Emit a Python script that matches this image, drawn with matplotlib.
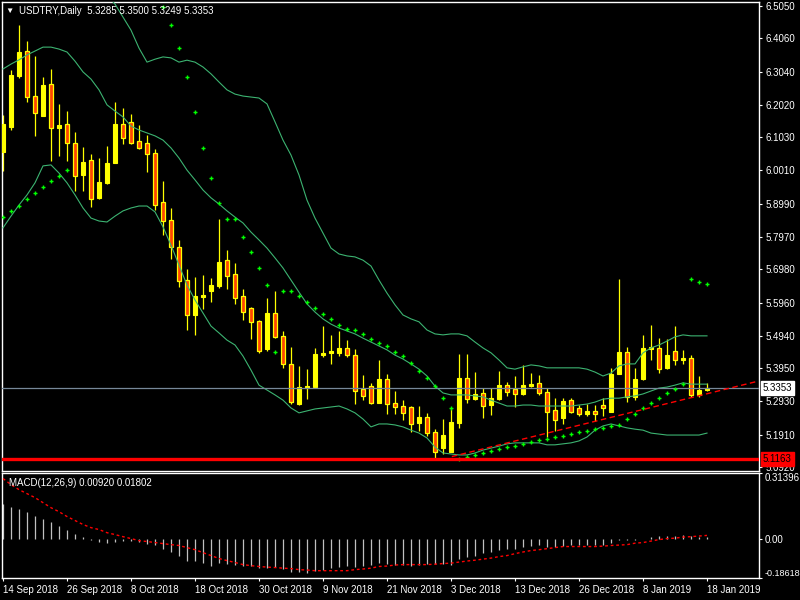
import matplotlib
matplotlib.use("Agg")
import matplotlib.pyplot as plt
import matplotlib.transforms as mtransforms
import numpy as np

plt.rcParams['font.family'] = ['Liberation Sans', 'DejaVu Sans']

# USDTRY daily candles, 14 Sep 2018 .. 18 Jan 2019
opens = [6.058, 6.134, 6.290, 6.367, 6.229, 6.168, 6.266, 6.131, 6.143, 6.085,
         5.987, 6.033, 5.916, 5.962, 6.024, 6.143, 6.149, 6.091, 6.085, 6.054,
         5.904, 5.849, 5.766, 5.665, 5.559, 5.613, 5.632, 5.647, 5.726, 5.684,
         5.616, 5.580, 5.540, 5.454, 5.564, 5.494, 5.408, 5.286, 5.335, 5.338,
         5.435, 5.441, 5.442, 5.457, 5.435, 5.331, 5.340, 5.288, 5.362, 5.288,
         5.279, 5.276, 5.228, 5.245, 5.199, 5.151, 5.139, 5.228, 5.365, 5.301,
         5.319, 5.283, 5.301, 5.343, 5.332, 5.317, 5.341, 5.349, 5.322, 5.267,
         5.243, 5.297, 5.273, 5.255, 5.264, 5.282, 5.262, 5.378, 5.444, 5.307,
         5.363, 5.455, 5.457, 5.396, 5.447, 5.421, 5.426, 5.313, 5.3285]
highs = [6.171, 6.309, 6.447, 6.398, 6.352, 6.287, 6.312, 6.205, 6.183, 6.119,
         6.073, 6.051, 6.039, 6.076, 6.211, 6.192, 6.174, 6.140, 6.110, 6.067,
         5.969, 5.886, 5.788, 5.699, 5.675, 5.681, 5.671, 5.852, 5.757, 5.717,
         5.638, 5.583, 5.543, 5.610, 5.631, 5.509, 5.460, 5.402, 5.392, 5.457,
         5.524, 5.497, 5.509, 5.481, 5.454, 5.374, 5.349, 5.420, 5.377, 5.325,
         5.297, 5.279, 5.280, 5.258, 5.208, 5.239, 5.273, 5.438, 5.438, 5.383,
         5.334, 5.334, 5.386, 5.352, 5.371, 5.405, 5.380, 5.374, 5.334, 5.304,
         5.304, 5.304, 5.282, 5.285, 5.282, 5.304, 5.395, 5.668, 5.460, 5.395,
         5.497, 5.527, 5.487, 5.484, 5.524, 5.451, 5.435, 5.371, 5.3500]
lows = [5.999, 6.125, 6.284, 6.211, 6.107, 6.168, 6.030, 6.045, 6.030, 5.938,
        5.938, 5.889, 5.913, 5.959, 6.024, 6.082, 6.082, 6.067, 5.996, 5.880,
        5.803, 5.730, 5.644, 5.512, 5.498, 5.577, 5.599, 5.641, 5.639, 5.593,
        5.543, 5.485, 5.443, 5.449, 5.488, 5.395, 5.284, 5.283, 5.301, 5.335,
        5.430, 5.409, 5.433, 5.430, 5.286, 5.297, 5.285, 5.288, 5.255, 5.255,
        5.237, 5.200, 5.203, 5.186, 5.116, 5.132, 5.139, 5.213, 5.289, 5.298,
        5.243, 5.252, 5.298, 5.310, 5.277, 5.313, 5.338, 5.313, 5.185, 5.203,
        5.225, 5.258, 5.249, 5.249, 5.234, 5.249, 5.262, 5.378, 5.292, 5.298,
        5.360, 5.421, 5.381, 5.393, 5.406, 5.409, 5.307, 5.307, 5.3249]
closes = [6.143, 6.294, 6.364, 6.226, 6.177, 6.263, 6.131, 6.140, 6.085, 5.984,
          6.027, 5.913, 5.965, 6.024, 6.143, 6.100, 6.085, 6.070, 6.051, 5.895,
          5.846, 5.766, 5.662, 5.558, 5.616, 5.619, 5.650, 5.720, 5.678, 5.611,
          5.568, 5.537, 5.449, 5.564, 5.491, 5.407, 5.290, 5.337, 5.341, 5.438,
          5.441, 5.447, 5.457, 5.436, 5.326, 5.310, 5.288, 5.362, 5.286, 5.276,
          5.258, 5.225, 5.246, 5.197, 5.139, 5.190, 5.230, 5.365, 5.301, 5.316,
          5.280, 5.304, 5.343, 5.323, 5.317, 5.343, 5.347, 5.320, 5.262, 5.237,
          5.294, 5.262, 5.255, 5.264, 5.255, 5.274, 5.377, 5.444, 5.307, 5.362,
          5.457, 5.460, 5.393, 5.435, 5.421, 5.427, 5.313, 5.328, 5.3353]

# Bollinger bands (20, 2)
bb_upper = [6.799, 6.793, 6.784, 6.784, 6.771, 6.743, 6.740, 6.753, 6.765, 6.746,
            6.720, 6.707, 6.650, 6.536, 6.511, 6.471, 6.431, 6.376, 6.333, 6.342,
            6.349, 6.346, 6.333, 6.339, 6.333, 6.318, 6.297, 6.272, 6.248, 6.235,
            6.229, 6.226, 6.223, 6.205, 6.150, 6.094, 6.048, 5.987, 5.910, 5.855,
            5.809, 5.763, 5.745, 5.739, 5.736, 5.726, 5.708, 5.665, 5.625, 5.589,
            5.558, 5.546, 5.537, 5.512, 5.500, 5.497, 5.500, 5.500, 5.494, 5.475,
            5.457, 5.442, 5.420, 5.396, 5.392, 5.399, 5.405, 5.402, 5.396, 5.396,
            5.396, 5.396, 5.396, 5.392, 5.383, 5.371, 5.380, 5.402, 5.408, 5.408,
            5.442, 5.457, 5.466, 5.478, 5.491, 5.497, 5.494, 5.494, 5.494]
bb_mid = [6.312, 6.327, 6.340, 6.355, 6.367, 6.379, 6.379, 6.373, 6.364, 6.336,
          6.303, 6.281, 6.248, 6.202, 6.183, 6.165, 6.137, 6.125, 6.116, 6.107,
          6.094, 6.070, 6.039, 6.002, 5.972, 5.941, 5.917, 5.898, 5.877, 5.858,
          5.840, 5.812, 5.788, 5.763, 5.733, 5.702, 5.665, 5.628, 5.592, 5.567,
          5.546, 5.530, 5.518, 5.509, 5.500, 5.487, 5.475, 5.463, 5.451, 5.435,
          5.423, 5.408, 5.392, 5.371, 5.340, 5.319, 5.313, 5.313, 5.313, 5.310,
          5.307, 5.297, 5.288, 5.279, 5.279, 5.282, 5.282, 5.279, 5.279, 5.279,
          5.279, 5.279, 5.282, 5.285, 5.291, 5.300, 5.303, 5.303, 5.307, 5.310,
          5.316, 5.325, 5.334, 5.337, 5.343, 5.350, 5.346, 5.346, 5.346]
bb_lower = [5.825, 5.861, 5.895, 5.926, 5.963, 6.015, 6.018, 5.993, 5.963, 5.926,
            5.886, 5.855, 5.846, 5.843, 5.861, 5.877, 5.886, 5.892, 5.892, 5.874,
            5.828, 5.772, 5.711, 5.650, 5.604, 5.564, 5.524, 5.503, 5.481, 5.466,
            5.432, 5.389, 5.343, 5.328, 5.313, 5.297, 5.273, 5.258, 5.264, 5.270,
            5.273, 5.276, 5.279, 5.270, 5.258, 5.239, 5.215, 5.224, 5.224, 5.221,
            5.215, 5.205, 5.196, 5.181, 5.153, 5.135, 5.132, 5.129, 5.129, 5.135,
            5.144, 5.150, 5.156, 5.163, 5.166, 5.166, 5.166, 5.166, 5.160, 5.160,
            5.163, 5.166, 5.172, 5.184, 5.205, 5.218, 5.224, 5.218, 5.212, 5.208,
            5.205, 5.196, 5.193, 5.190, 5.190, 5.190, 5.190, 5.190, 5.196]

# Parabolic SAR (nan = above the visible range)
nan = float('nan')
sar = [5.858, 5.877, 5.892, 5.914, 5.932, 5.950, 5.969, 5.984, 6.002, nan,
       nan, nan, nan, nan, nan, nan, nan, nan, nan, nan,
       6.502, 6.447, 6.376, 6.287, 6.180, 6.070, 5.978, 5.901, 5.852, 5.852,
       5.797, 5.751, 5.702, 5.650, 5.445, 5.632, 5.632, 5.616, 5.598, 5.579,
       5.561, 5.546, 5.527, 5.515, 5.512, 5.500, 5.484, 5.472, 5.463, 5.445,
       5.432, 5.411, 5.386, 5.365, 5.340, 5.304, 5.273, 5.116, 5.123, 5.129,
       5.135, 5.141, 5.147, 5.153, 5.156, 5.163, 5.169, 5.175, 5.178, 5.184,
       5.187, 5.193, 5.199, 5.202, 5.208, 5.212, 5.218, 5.221, 5.239, 5.254,
       5.273, 5.288, 5.304, 5.319, 5.331, 5.346, 5.668, 5.659, 5.653]

# MACD (12,26,9)
macd_hist = [0.170, 0.155, 0.146, 0.131, 0.109, 0.098, 0.080, 0.065, 0.046, 0.027,
             0.011, -0.002, -0.013, -0.018, -0.013, -0.010, -0.010, -0.015, -0.022, -0.030,
             -0.045, -0.062, -0.081, -0.102, -0.105, -0.113, -0.129, -0.113, -0.116, -0.122,
             -0.126, -0.129, -0.139, -0.137, -0.134, -0.140, -0.154, -0.154, -0.160, -0.153,
             -0.145, -0.139, -0.134, -0.129, -0.132, -0.129, -0.121, -0.113, -0.116, -0.121,
             -0.122, -0.126, -0.122, -0.118, -0.116, -0.116, -0.121, -0.092, -0.084, -0.080,
             -0.065, -0.062, -0.053, -0.046, -0.045, -0.037, -0.032, -0.030, -0.037, -0.037,
             -0.034, -0.030, -0.029, -0.029, -0.027, -0.026, -0.018, -0.005, -0.005, -0.002,
             0.001, 0.011, 0.014, 0.017, 0.016, 0.020, 0.015, 0.011, 0.0092]
macd_signal = [0.289, 0.260, 0.236, 0.217, 0.198, 0.174, 0.150, 0.131, 0.108, 0.089,
               0.070, 0.055, 0.046, 0.031, 0.022, 0.012, 0.003, -0.007, -0.011, -0.016,
               -0.021, -0.026, -0.030, -0.040, -0.050, -0.064, -0.078, -0.092, -0.102, -0.111,
               -0.121, -0.126, -0.130, -0.133, -0.135, -0.138, -0.140, -0.145, -0.147, -0.150,
               -0.150, -0.150, -0.150, -0.150, -0.145, -0.142, -0.138, -0.130, -0.128, -0.123,
               -0.121, -0.121, -0.121, -0.121, -0.119, -0.116, -0.114, -0.109, -0.104, -0.100,
               -0.095, -0.090, -0.083, -0.078, -0.069, -0.061, -0.054, -0.050, -0.045, -0.040,
               -0.035, -0.035, -0.035, -0.035, -0.035, -0.033, -0.030, -0.028, -0.026, -0.019,
               -0.016, -0.009, -0.002, 0.003, 0.005, 0.010, 0.012, 0.015, 0.018]

price_ticks = [6.5050, 6.4060, 6.3040, 6.2020, 6.1030, 6.0010, 5.8990, 5.7970,
               5.6980, 5.5960, 5.4940, 5.3950, 5.2930, 5.1910, 5.0920]
date_ticks = [0, 8, 16, 24, 32, 40, 48, 56, 64, 72, 80, 88]
date_labels = ["14 Sep 2018", "26 Sep 2018", "8 Oct 2018", "18 Oct 2018",
               "30 Oct 2018", "9 Nov 2018", "21 Nov 2018", "3 Dec 2018",
               "13 Dec 2018", "26 Dec 2018", "8 Jan 2019", "18 Jan 2019"]
last_price = 5.3353
support_level = 5.1163
trend_x = [56.1, 94.2]
trend_y = [5.124, 5.354]

FG = "white"
fig = plt.figure(figsize=(8, 6), dpi=100, facecolor="black")
ax = fig.add_axes([0.0025, 0.215, 0.94625, 0.78167])
ax2 = fig.add_axes([0.0025, 0.0362, 0.94625, 0.175])

x = np.arange(len(closes))
o = np.array(opens)
c = np.array(closes)
up = c >= o

# candles
ax.vlines(x, lows, highs, color="#FFFF00", lw=0.9, zorder=2)
ax.bar(x[up], np.maximum((c - o)[up], 0.0015), bottom=o[up], width=0.5,
       color="#FFFF00", edgecolor="#FFFF00", lw=0.8, zorder=3)
ax.bar(x[~up], (o - c)[~up], bottom=c[~up], width=0.5,
       color="#FF4500", edgecolor="#FFFF00", lw=0.9, zorder=3)

# indicators
for band in (bb_upper, bb_mid, bb_lower):
    ax.plot(x, band, color="#3CB371", lw=0.8, zorder=4)
ax.plot(x, sar, ls="none", marker="+", ms=3, mew=1, color="#00FF00", zorder=5)

ax.axhline(last_price, color="#778899", lw=0.9, zorder=4)
ax.plot(trend_x, trend_y, color="red", lw=1.0, dashes=(4, 2.5), zorder=5)
ax.axhline(support_level, color="red", lw=2.4, zorder=6)

ax.set_xlim(-0.125, 94.5)
ax.set_ylim(5.0798, 6.5173)
ax.set_facecolor("black")
for s in ax.spines.values():
    s.set_color(FG)
    s.set_linewidth(1)
ax.set_xticks([])
ax.yaxis.tick_right()
ax.set_yticks(price_ticks)
ax.set_yticklabels([f"{v:.4f}" for v in price_ticks])
ax.tick_params(axis="y", colors=FG, labelcolor=FG, labelsize=7, length=2.5, pad=2)

trans = mtransforms.blended_transform_factory(ax.transAxes, ax.transData)
ax.text(1.005, last_price, f"{last_price:.4f}", transform=trans, ha="left", va="center",
        fontsize=7, color="black", clip_on=False, zorder=10,
        bbox=dict(boxstyle="square,pad=0.2", fc="white", ec="white"))
ax.text(1.005, support_level, f"{support_level:.4f}", transform=trans, ha="left", va="center",
        fontsize=7, color="black", clip_on=False, zorder=10,
        bbox=dict(boxstyle="square,pad=0.2", fc="red", ec="red"))

ax.text(0.005, 0.981, "\u25bc", transform=ax.transAxes, ha="left", va="center",
        fontsize=6, color=FG, zorder=11)
ax.text(0.022, 0.981, "USDTRY,Daily  5.3285 5.3500 5.3249 5.3353", transform=ax.transAxes,
        ha="left", va="center", fontsize=7, color=FG, zorder=11)

# MACD panel
ax2.vlines(x, 0, macd_hist, color="#C0C0C0", lw=0.9, zorder=2)
ax2.plot(x, macd_signal, color="red", lw=1.0, dashes=(2, 2), zorder=3)
ax2.set_xlim(-0.125, 94.5)
ax2.set_ylim(-0.18618, 0.31396)
ax2.set_facecolor("black")
for s in ax2.spines.values():
    s.set_color(FG)
    s.set_linewidth(1)
ax2.yaxis.tick_right()
ax2.set_yticks([0.31396, 0.0, -0.18618])
ax2.set_yticklabels(["0.31396", "0.00", "-0.18618"])
ax2.tick_params(axis="y", colors=FG, labelcolor=FG, labelsize=7, length=2.5, pad=1.5)
ylabs = ax2.get_yticklabels()
ylabs[0].set_va("top")
ylabs[2].set_va("bottom")
ylabs[2].set_fontsize(6.5)
ax2.set_xticks(date_ticks)
ax2.set_xticklabels(date_labels)
for lbl in ax2.get_xticklabels():
    lbl.set_ha("left")
ax2.tick_params(axis="x", colors=FG, labelcolor=FG, labelsize=7, length=2.5, pad=2)
ax2.text(0.009, 0.91, "MACD(12,26,9) 0.00920 0.01802", transform=ax2.transAxes,
         ha="left", va="center", fontsize=7, color=FG, zorder=5)

fig.savefig("out.png", dpi=100, facecolor="black")
